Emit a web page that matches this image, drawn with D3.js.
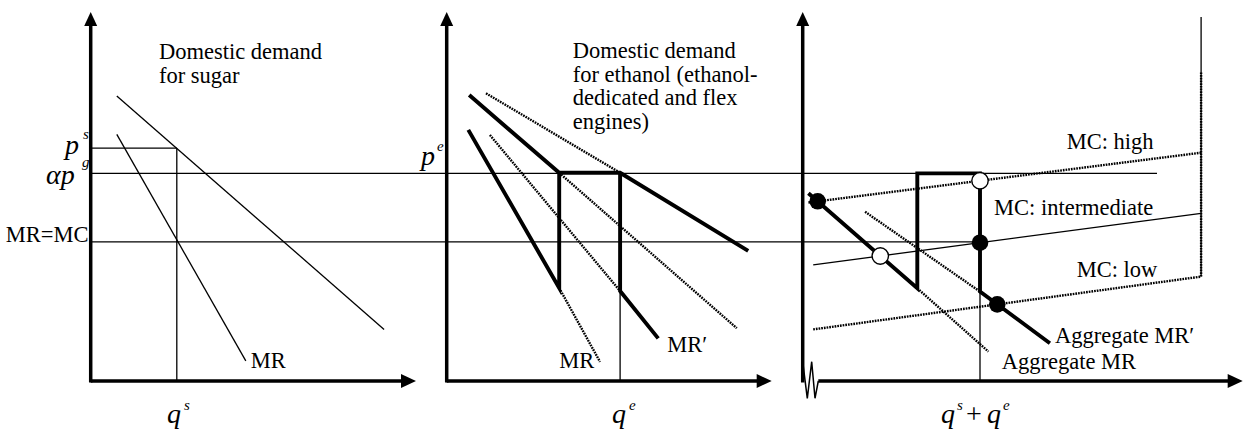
<!DOCTYPE html>
<html>
<head>
<meta charset="utf-8">
<script src="https://cdn.jsdelivr.net/npm/d3@7"></script>
<style>
  html, body { margin: 0; padding: 0; background: #fff; }
  svg { display: block; }
</style>
</head>
<body>
<svg id="chart" width="1244" height="435" font-family="Liberation Serif"></svg>
<script>
// ---------------- DATA (price / quantity units) ----------------
const priceSugar = 77.6;          // p^s
const priceEthanol = 69.2;        // alpha p^g = p^e
const priceMRMC = 46.4;           // MR = MC
// Panel 1 : sugar
const sugarDemand = [[8.7, 95.0], [97.8, 17.2]];
const sugarMR = [[8.7, 82.2], [51.7, 6.7]];
const qSugar = 28.7;
// Panel 2 : ethanol
const ethDemandThick = [[7.5, 95.3], [37.5, 69.4], [57.8, 69.4], [100.5, 43.4]];
const ethMRThick = [[7.2, 83.7], [37.5, 31.0], [37.5, 69.4]];
const ethMRpThick = [[57.8, 69.4], [57.8, 30.0], [70.5, 14.2]];
const ethDemandDotted = [[37.5, 69.4], [96.7, 17.6]];
const ethDemandPDotted = [[13.1, 95.9], [57.8, 69.4]];
const ethMRDotted = [[37.5, 31.0], [51.1, 6.4]];
const ethMRpDotted = [[14.4, 82.0], [57.8, 30.0]];
const qEthanol = 57.8;
// Panel 3 : aggregate
const aggThick = [[1.9, 62.6], [38.2, 30.9], [38.2, 69.2], [59.1, 69.2], [59.1, 29.8], [82.4, 12.6]];
const aggMRDotted = [[38.2, 30.9], [61.9, 9.8]];
const aggMRpDotted = [[20.8, 56.4], [59.1, 29.8]];
const mcHigh = [[1.9, 59.5], [132.8, 76.1]];
const mcMid = [[3.5, 38.7], [132.8, 55.9]];
const mcLow = [[3.5, 17.2], [132.8, 34.8]];
const capacity = 132.8;
const capacityTop = 121.3;
const capacityDottedTop = 103.0;
const qTotal = 59.1;
const pe3End = 118.1;
// text
const sugarTitle = ["Domestic demand", "for sugar"];
const ethanolTitle = ["Domestic demand", "for ethanol (ethanol-", "dedicated and flex", "engines)"];

// ---------------- LAYOUT ----------------
const svg = d3.select("#chart");
const FONT = "Liberation Serif";
const FS = 22.5;

function txt(s, x, yy, opts = {}) {
  const t = svg.append("text").attr("x", x).attr("y", yy)
    .attr("font-family", FONT).style("font-family", "'Liberation Serif', serif")
    .attr("font-size", opts.size || FS).attr("fill", "#000").text(s);
  if (opts.italic) t.attr("font-style", "italic");
  if (opts.anchor) t.attr("text-anchor", opts.anchor);
  return t;
}

const y = d3.scaleLinear().domain([0, 120]).range([381, 21]);
const origins = [90.7, 446.7, 802.7];
const xs = origins.map(o => d3.scaleLinear().domain([0, 120]).range([o, o + 360]));
const axisEnd = [416, 771.7, 1242.7];

const THICK = 3.9, AXIS = 3.5, THIN = 1.3, DOT = 2.4;
const line = (xsc) => d3.line().x(d => xsc(d[0])).y(d => y(d[1]));

function draw(xsc, pts, w, dotted) {
  svg.append("path").attr("d", line(xsc)(pts))
    .attr("fill", "none").attr("stroke", "#000")
    .attr("stroke-width", w)
    .attr("stroke-linejoin", "miter")
    .attr("stroke-dasharray", dotted ? "1.7,1.0" : null);
}

// Axes
origins.forEach((o, i) => {
  const top = 12;
  svg.append("line").attr("x1", o).attr("x2", o).attr("y1", 382.5).attr("y2", top + 10)
    .attr("stroke", "#000").attr("stroke-width", AXIS);
  svg.append("path").attr("d", `M${o},${top} L${o - 6.5},${top + 14} L${o + 6.5},${top + 14} Z`).attr("fill", "#000");
  const xStart = i === 2 ? 818.3 : o;
  svg.append("line").attr("x1", xStart).attr("x2", axisEnd[i] - 10).attr("y1", 381).attr("y2", 381)
    .attr("stroke", "#000").attr("stroke-width", AXIS);
  svg.append("path").attr("d", `M${axisEnd[i]},381 L${axisEnd[i] - 15},${381 - 7} L${axisEnd[i] - 15},${381 + 7} Z`).attr("fill", "#000");
});
svg.append("path").attr("d", "M802.7,361.7 L807.3,398.3 L811.7,361.7 L815,398.3 L818.3,381")
  .attr("fill", "none").attr("stroke", "#000").attr("stroke-width", 1.5);

svg.append("line").attr("x1", xs[0](0)).attr("x2", xs[0](qSugar))
  .attr("y1", y(priceSugar)).attr("y2", y(priceSugar)).attr("stroke", "#000").attr("stroke-width", THIN);
svg.append("line").attr("x1", xs[0](0)).attr("x2", xs[2](pe3End))
  .attr("y1", y(priceEthanol)).attr("y2", y(priceEthanol)).attr("stroke", "#000").attr("stroke-width", THIN);
svg.append("line").attr("x1", xs[0](0)).attr("x2", xs[2](qTotal))
  .attr("y1", y(priceMRMC)).attr("y2", y(priceMRMC)).attr("stroke", "#000").attr("stroke-width", THIN);

draw(xs[0], sugarDemand, THIN);
draw(xs[0], sugarMR, THIN);
draw(xs[0], [[qSugar, priceSugar], [qSugar, 0]], THIN);

draw(xs[1], ethDemandDotted, DOT, true);
draw(xs[1], ethDemandPDotted, DOT, true);
draw(xs[1], ethMRDotted, DOT, true);
draw(xs[1], ethMRpDotted, DOT, true);
draw(xs[1], [[qEthanol, 30.0], [qEthanol, 0]], THIN);
draw(xs[1], ethDemandThick, THICK);
draw(xs[1], ethMRThick, THICK);
draw(xs[1], ethMRpThick, THICK);

draw(xs[2], mcHigh, DOT, true);
draw(xs[2], mcMid, THIN);
draw(xs[2], mcLow, DOT, true);
draw(xs[2], [[capacity, mcLow[1][1]], [capacity, capacityTop]], THIN);
draw(xs[2], [[capacity, mcLow[1][1]], [capacity, capacityDottedTop]], DOT, true);
draw(xs[2], aggMRDotted, DOT, true);
draw(xs[2], aggMRpDotted, DOT, true);
draw(xs[2], [[qTotal, 29.8], [qTotal, 0]], THIN);
draw(xs[2], aggThick, THICK);

function lineAt(seg, x) {
  const [[x1, y1], [x2, y2]] = seg;
  return y1 + (x - x1) * (y2 - y1) / (x2 - x1);
}
function intersect(a, b) {
  const sa = (a[1][1] - a[0][1]) / (a[1][0] - a[0][0]);
  const sb = (b[1][1] - b[0][1]) / (b[1][0] - b[0][0]);
  const x = (b[0][1] - sb * b[0][0] - a[0][1] + sa * a[0][0]) / (sa - sb);
  return [x, a[0][1] + sa * (x - a[0][0])];
}
const aggMRline = [aggThick[0], aggThick[1]];
const aggMRpLine = [aggThick[4], aggThick[5]];
const filledDots = [
  intersect(aggMRline, mcHigh),
  [qTotal, lineAt(mcMid, qTotal)],
  intersect(aggMRpLine, mcLow)
];
const openDots = [
  [qTotal, lineAt(mcHigh, qTotal)],
  intersect(aggMRline, mcMid)
];
svg.selectAll("circle.f").data(filledDots).enter().append("circle")
  .attr("cx", d => xs[2](d[0])).attr("cy", d => y(d[1])).attr("r", 8.3).attr("fill", "#000");
svg.selectAll("circle.o").data(openDots).enter().append("circle")
  .attr("cx", d => xs[2](d[0])).attr("cy", d => y(d[1])).attr("r", 8.2).attr("fill", "#fff")
  .attr("stroke", "#000").attr("stroke-width", 1.4);

// ---------------- TEXT ----------------
sugarTitle.forEach((s, i) => txt(s, 159, 59 + i * 24));
ethanolTitle.forEach((s, i) => txt(s, 572.7, 58.3 + i * 23.4));
txt("MR", 250.7, 368.3);
txt("MR", 559.3, 368.3);
txt("MR\u2032", 667.3, 351.7);
txt("MR=MC", 88.5, 241.7, { anchor: "end" });
txt("MC: high", 1066.7, 149.3);
txt("MC: intermediate", 994, 215);
txt("MC: low", 1076.7, 276.7);
txt("Aggregate MR\u2032", 1055, 343.3);
txt("Aggregate MR", 1001.7, 369.3);

const MS = 28, SS = 15;
txt("p", 65, 154, { italic: true, size: MS });
txt("s", 83, 139, { italic: true, size: SS });
txt("\u03b1p", 46, 184, { italic: true, size: MS });
txt("g", 82, 167, { italic: true, size: SS });
txt("p", 421, 165, { italic: true, size: MS });
txt("e", 437, 151, { italic: true, size: SS });
txt("q", 167, 423, { italic: true, size: MS });
txt("s", 184, 410, { italic: true, size: SS });
txt("q", 612, 423, { italic: true, size: MS });
txt("e", 629, 410, { italic: true, size: SS });
txt("q", 941, 423, { italic: true, size: MS });
txt("s", 957, 410, { italic: true, size: SS });
txt("+", 966, 423, { size: MS });
txt("q", 987, 423, { italic: true, size: MS });
txt("e", 1003, 410, { italic: true, size: SS });
</script>
</body>
</html>
